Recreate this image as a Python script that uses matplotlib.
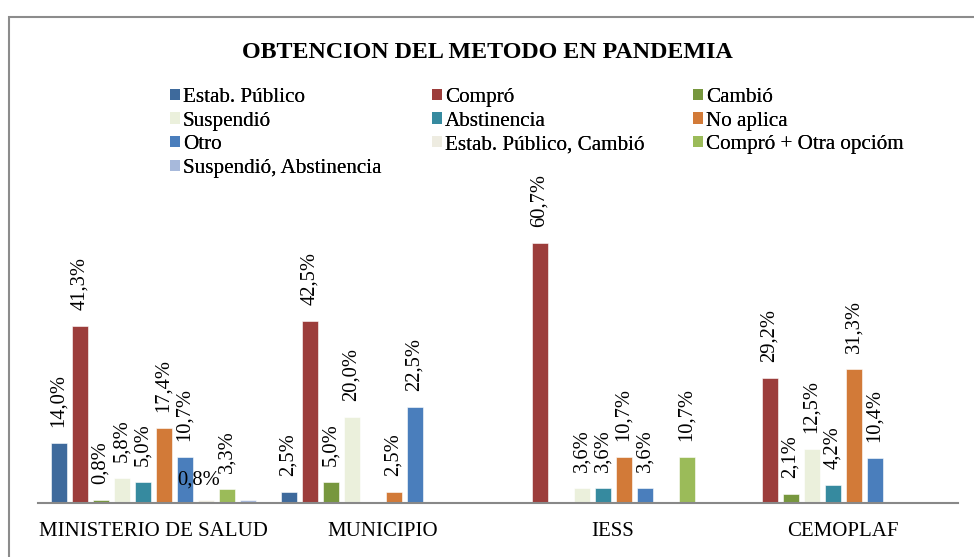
import matplotlib
matplotlib.use("Agg")
import matplotlib.pyplot as plt
from matplotlib.patches import Patch, Rectangle
import numpy as np

plt.rcParams['font.family'] = ['Liberation Serif', 'DejaVu Serif']

categories = ["MINISTERIO DE SALUD", "MUNICIPIO", "IESS", "CEMOPLAF"]
series_names = ["Estab. Público", "Compró", "Cambió", "Suspendió", "Abstinencia",
                "No aplica", "Otro", "Estab. Público, Cambió", "Compró + Otra opcióm",
                "Suspendió, Abstinencia"]
colors = ["#3E6A9C", "#9C3D3B", "#77973E", "#EBF0DC", "#368A9F",
          "#D27A38", "#4A7EBC", "#EEECE1", "#9BBB59", "#A7B9DB"]

estab_publico = [14.0, 2.5, 0.0, 0.0]
compro = [41.3, 42.5, 60.7, 29.2]
cambio = [0.8, 5.0, 0.0, 2.1]
suspendio = [5.8, 20.0, 3.6, 12.5]
abstinencia = [5.0, 0.0, 3.6, 4.2]
no_aplica = [17.4, 2.5, 10.7, 31.3]
otro = [10.7, 22.5, 3.6, 10.4]
estab_pub_cambio = [0.8, 0.0, 0.0, 0.0]
compro_otra = [3.3, 0.0, 10.7, 0.0]
susp_abst = [0.8, 0.0, 0.0, 0.0]

values = [estab_publico, compro, cambio, suspendio, abstinencia, no_aplica,
          otro, estab_pub_cambio, compro_otra, susp_abst]

W, H = 974, 557
fig = plt.figure(figsize=(W / 100, H / 100), dpi=100)
ax = fig.add_axes([38 / W, 1 - 503 / H, 920 / W, 300 / H])

step = 21 / 230
bw = 16 / 230
x = np.arange(len(categories))
n = len(values)
for i, (vals, col) in enumerate(zip(values, colors)):
    pos = x + (i - (n - 1) / 2) * step
    ax.bar(pos, vals, width=bw, color=col, edgecolor="white", linewidth=0.4)
    for j, (p, v) in enumerate(zip(pos, vals)):
        if v <= 0:
            continue
        if i == 9:
            continue  # label not shown in reference
        txt = f"{v:.1f}%".replace(".", ",")
        if i == 7:
            ax.annotate(txt, (p, v), xytext=(-5, 7), textcoords="offset points",
                        ha="center", va="bottom", rotation=0, fontsize=14.8)
        else:
            ax.annotate(txt, (p, v), xytext=(0, 11.5), textcoords="offset points",
                        ha="center", va="bottom", rotation=90, fontsize=14.8)

ax.set_xlim(-0.5, len(categories) - 0.5)
ax.set_ylim(0, 70)
ax.set_yticks([])
ax.set_xticks(x)
ax.set_xticklabels(categories, fontsize=15)
ax.tick_params(axis="x", length=0, pad=14)
for s in ["top", "right", "left"]:
    ax.spines[s].set_visible(False)
ax.spines["bottom"].set_color("#888888")
ax.spines["bottom"].set_linewidth(1.5)

fig.text(0.5, 1 - 52 / H, "OBTENCION DEL METODO EN PANDEMIA", ha="center",
         va="center", fontsize=17.3, fontweight="bold")

# legend: three columns, row-major order
cols_x = [170, 432, 693]
for c in range(3):
    idx = [k for k in range(n) if k % 3 == c]
    handles = [Patch(facecolor=colors[k], edgecolor="none") for k in idx]
    labels = [series_names[k] for k in idx]
    leg = fig.legend(handles, labels, loc="upper left",
                     bbox_to_anchor=(cols_x[c] / W, 1 - 88 / H),
                     frameon=False, fontsize=15.2, handlelength=0.45,
                     handleheight=0.45, handletextpad=0.15, labelspacing=0.22,
                     borderpad=0, borderaxespad=0)
    fig.add_artist(leg)

fig.add_artist(Rectangle((9 / W, -0.1), 1.2, 1 - 17 / H + 0.1, transform=fig.transFigure,
                         fill=False, edgecolor="#8c8c8c", linewidth=1.5, clip_on=False))

fig.savefig("out.png", dpi=100)
